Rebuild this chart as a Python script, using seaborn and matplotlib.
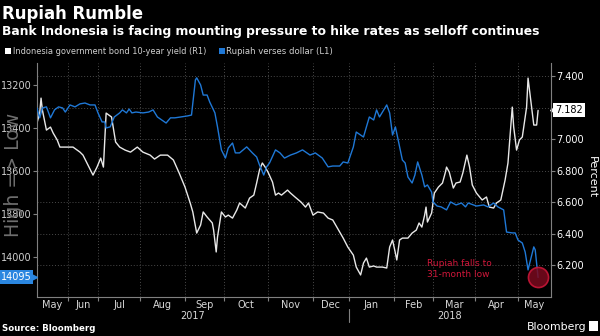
import numpy as np
import pandas as pd
import matplotlib
matplotlib.use("Agg")
import matplotlib.pyplot as plt
import matplotlib.dates as mdates
from matplotlib.ticker import FixedLocator, NullFormatter, FixedFormatter
from matplotlib.patches import Rectangle
from matplotlib.lines import Line2D
import seaborn as sns

# ---------------- data ----------------
rupiah_dates = [
    "2017-05-09", "2017-05-11", "2017-05-13", "2017-05-16", "2017-05-19", "2017-05-22", "2017-05-25", "2017-05-28", "2017-05-30", "2017-06-03",
    "2017-06-08", "2017-06-13", "2017-06-18", "2017-06-23", "2017-06-28", "2017-07-01", "2017-07-04", "2017-07-06", "2017-07-07", "2017-07-10",
    "2017-07-13", "2017-07-17", "2017-07-19", "2017-07-22", "2017-07-24", "2017-07-26", "2017-07-29", "2017-08-03", "2017-08-07", "2017-08-10",
    "2017-08-13", "2017-08-16", "2017-08-19", "2017-08-22", "2017-08-25", "2017-08-29", "2017-09-03", "2017-09-06", "2017-09-09", "2017-09-10",
    "2017-09-13", "2017-09-15", "2017-09-18", "2017-09-20", "2017-09-24", "2017-09-26", "2017-09-29", "2017-10-02", "2017-10-04", "2017-10-07",
    "2017-10-09", "2017-10-12", "2017-10-17", "2017-10-21", "2017-10-24", "2017-10-26", "2017-10-29", "2017-10-31", "2017-11-02", "2017-11-06",
    "2017-11-09", "2017-11-12", "2017-11-16", "2017-11-20", "2017-11-24", "2017-11-29", "2017-12-03", "2017-12-09", "2017-12-14", "2017-12-18",
    "2017-12-24", "2017-12-27", "2017-12-31", "2018-01-04", "2018-01-06", "2018-01-09", "2018-01-11", "2018-01-13", "2018-01-15", "2018-01-18",
    "2018-01-20", "2018-01-22", "2018-01-27", "2018-01-29", "2018-01-31", "2018-02-02", "2018-02-04", "2018-02-07", "2018-02-09", "2018-02-11",
    "2018-02-14", "2018-02-16", "2018-02-18", "2018-02-21", "2018-02-23", "2018-02-25", "2018-02-28", "2018-03-01", "2018-03-04", "2018-03-07",
    "2018-03-11", "2018-03-14", "2018-03-18", "2018-03-22", "2018-03-25", "2018-03-27", "2018-04-02", "2018-04-07", "2018-04-10", "2018-04-14",
    "2018-04-17", "2018-04-21", "2018-04-23", "2018-04-27", "2018-04-29", "2018-05-01", "2018-05-04", "2018-05-06", "2018-05-08", "2018-05-12",
    "2018-05-13", "2018-05-15",
]
rupiah_values = [
    13307, 13353, 13307, 13302, 13353, 13316, 13302, 13307, 13326, 13293,
    13302, 13288, 13284, 13293, 13293, 13330, 13372, 13372, 13400, 13395,
    13349, 13330, 13316, 13330, 13312, 13330, 13326, 13330, 13326, 13316,
    13349, 13363, 13377, 13353, 13353, 13349, 13344, 13340, 13177, 13167,
    13200, 13247, 13247, 13279, 13330, 13395, 13502, 13540, 13493, 13470,
    13516, 13516, 13488, 13516, 13535, 13572, 13619, 13581, 13563, 13502,
    13516, 13540, 13526, 13516, 13502, 13526, 13516, 13540, 13581, 13577,
    13577, 13558, 13563, 13488, 13419, 13433, 13442, 13395, 13349, 13363,
    13316, 13349, 13293, 13330, 13433, 13395, 13456, 13549, 13563, 13628,
    13656, 13619, 13558, 13619, 13674, 13665, 13698, 13744, 13763, 13767,
    13781, 13744, 13758, 13749, 13767, 13749, 13763, 13758, 13767, 13749,
    13767, 13781, 13884, 13888, 13888, 13921, 13935, 13977, 14060, 13953,
    13967, 14095,
]

yield_dates = [
    "2017-05-09", "2017-05-11", "2017-05-12", "2017-05-13", "2017-05-16", "2017-05-19", "2017-05-21", "2017-05-24", "2017-05-26", "2017-05-31",
    "2017-06-06", "2017-06-13", "2017-06-16", "2017-06-21", "2017-06-26", "2017-06-30", "2017-07-03", "2017-07-05", "2017-07-07", "2017-07-11",
    "2017-07-14", "2017-07-17", "2017-07-21", "2017-07-25", "2017-07-30", "2017-08-03", "2017-08-08", "2017-08-11", "2017-08-15", "2017-08-20",
    "2017-08-24", "2017-08-28", "2017-09-01", "2017-09-05", "2017-09-07", "2017-09-10", "2017-09-13", "2017-09-15", "2017-09-18", "2017-09-22",
    "2017-09-23", "2017-09-25", "2017-09-26", "2017-09-29", "2017-10-02", "2017-10-04", "2017-10-07", "2017-10-10", "2017-10-12", "2017-10-16",
    "2017-10-19", "2017-10-22", "2017-10-24", "2017-10-26", "2017-10-28", "2017-10-30", "2017-11-01", "2017-11-04", "2017-11-06", "2017-11-08",
    "2017-11-10", "2017-11-14", "2017-11-16", "2017-11-19", "2017-11-23", "2017-11-26", "2017-11-28", "2017-12-01", "2017-12-05", "2017-12-10",
    "2017-12-14", "2017-12-18", "2017-12-22", "2017-12-27", "2017-12-31", "2018-01-04", "2018-01-06", "2018-01-09", "2018-01-11", "2018-01-13",
    "2018-01-15", "2018-01-18", "2018-01-20", "2018-01-24", "2018-01-27", "2018-01-29", "2018-01-31", "2018-02-02", "2018-02-03", "2018-02-05",
    "2018-02-07", "2018-02-11", "2018-02-14", "2018-02-17", "2018-02-19", "2018-02-21", "2018-02-23", "2018-02-24", "2018-02-25", "2018-02-28",
    "2018-03-02", "2018-03-05", "2018-03-08", "2018-03-10", "2018-03-11", "2018-03-13", "2018-03-16", "2018-03-18", "2018-03-21", "2018-03-23",
    "2018-03-26", "2018-03-28", "2018-03-30", "2018-04-02", "2018-04-06", "2018-04-09", "2018-04-11", "2018-04-14", "2018-04-16", "2018-04-19",
    "2018-04-22", "2018-04-24", "2018-04-27", "2018-04-28", "2018-04-30", "2018-05-02", "2018-05-04", "2018-05-07", "2018-05-08", "2018-05-11",
    "2018-05-12", "2018-05-14", "2018-05-15",
]
yield_values = [
    7.102, 7.165, 7.260, 7.184, 7.057, 7.076, 7.038, 6.994, 6.949, 6.949,
    6.949, 6.917, 6.898, 6.835, 6.771, 6.822, 6.879, 6.822, 7.165, 7.140,
    6.981, 6.949, 6.930, 6.917, 6.949, 6.917, 6.898, 6.873, 6.898, 6.898,
    6.867, 6.784, 6.695, 6.594, 6.537, 6.403, 6.454, 6.537, 6.505, 6.467,
    6.422, 6.283, 6.378, 6.537, 6.505, 6.517, 6.498, 6.549, 6.594, 6.562,
    6.625, 6.644, 6.721, 6.803, 6.848, 6.822, 6.790, 6.727, 6.644, 6.657,
    6.644, 6.676, 6.657, 6.632, 6.600, 6.568, 6.594, 6.517, 6.537, 6.530,
    6.498, 6.486, 6.435, 6.371, 6.314, 6.263, 6.187, 6.137, 6.213, 6.244,
    6.187, 6.194, 6.187, 6.187, 6.181, 6.314, 6.359, 6.276, 6.232, 6.359,
    6.371, 6.371, 6.403, 6.422, 6.467, 6.441, 6.517, 6.568, 6.473, 6.530,
    6.657, 6.695, 6.721, 6.784, 6.822, 6.790, 6.689, 6.721, 6.727, 6.784,
    6.898, 6.822, 6.708, 6.657, 6.613, 6.632, 6.568, 6.562, 6.594, 6.613,
    6.740, 6.848, 7.203, 7.076, 6.930, 6.994, 7.013, 7.203, 7.387, 7.165,
    7.089, 7.089, 7.182,
]

month_starts = ["2017-06-01", "2017-07-01", "2017-08-01", "2017-09-01", "2017-10-01", "2017-11-01",
                "2017-12-01", "2018-01-01", "2018-02-01", "2018-03-01", "2018-04-01", "2018-05-01"]
month_labels = ["May", "Jun", "Jul", "Aug", "Sep", "Oct", "Nov", "Dec", "Jan", "Feb", "Mar", "Apr", "May"]
axis_start, axis_end = "2017-05-09", "2018-05-24"
rupiah_ticks = [13200, 13400, 13600, 13800, 14000]
yield_ticks = [6.2, 6.4, 6.6, 6.8, 7.0, 7.2, 7.4]
yield_tick_labels = ["6.200", "6.400", "6.600", "6.800", "7.000", "", "7.400"]

title = "Rupiah Rumble"
subtitle = "Bank Indonesia is facing mounting pressure to hike rates as selloff continues"
legend_yield = "Indonesia government bond 10-year yield (R1)"
legend_rupiah = "Rupiah verses dollar (L1)"
note = "Rupiah falls to\n31-month low"

# ---------------- style ----------------
sns.set_theme(context="paper", style="dark")
plt.rcParams["font.family"] = ["DejaVu Sans"]
BG = "black"
BLUE = "#1f78d6"
WHITE = "#e8e8e8"
GRID = "#4a4a4a"
SPINE = "#808080"
RED = "#d0173a"

df_r = pd.DataFrame({"date": pd.to_datetime(rupiah_dates), "value": rupiah_values})
df_y = pd.DataFrame({"date": pd.to_datetime(yield_dates), "value": yield_values})

W, H = 600, 336
fig = plt.figure(figsize=(W / 100, H / 100), dpi=100, facecolor=BG)
ax = fig.add_axes([37 / W, 39 / H, 514 / W, 234 / H])   # yield (right)
ax.set_facecolor(BG)
ax2 = ax.twinx()                                          # rupiah (left)
ax2.patch.set_visible(False)

sns.lineplot(data=df_y, x="date", y="value", ax=ax, color=WHITE, linewidth=1.0, estimator=None)
sns.lineplot(data=df_r, x="date", y="value", ax=ax2, color=BLUE, linewidth=1.0, estimator=None)

# trading-day style x scale (piecewise by month)
anchor_dates = pd.to_datetime([axis_start] + month_starts + [axis_end])
anchor_num = mdates.date2num(anchor_dates)
anchor_pos = np.array([37, 68, 98, 140, 185, 224, 268, 313, 349, 394, 433, 475, 518, 551], float)


def fwd(x):
    return np.interp(x, anchor_num, anchor_pos)


def inv(p):
    return np.interp(p, anchor_pos, anchor_num)


ax.set_xscale("function", functions=(fwd, inv))
ax.set_xlim(anchor_num[0], anchor_num[-1])

ms_num = mdates.date2num(pd.to_datetime(month_starts))
mids = (anchor_num[:-1] + anchor_num[1:]) / 2
ax.xaxis.set_major_locator(FixedLocator(ms_num))
ax.xaxis.set_major_formatter(NullFormatter())
ax.xaxis.set_minor_locator(FixedLocator(mids))
ax.xaxis.set_minor_formatter(FixedFormatter(month_labels))
ax.tick_params(axis="x", which="major", direction="out", length=3, width=0.8, color=SPINE, bottom=True)
ax.tick_params(axis="x", which="minor", length=0, pad=2, labelsize=7, labelcolor="#d8d8d8", bottom=True)

# y axes
ax.set_ylim(5.997, 7.483)
ax.yaxis.set_major_locator(FixedLocator(yield_ticks))
ax.yaxis.set_major_formatter(FixedFormatter(yield_tick_labels))
ax.yaxis.tick_right()
ax.tick_params(axis="y", direction="out", length=3, width=0.8, color=SPINE, pad=1, labelsize=7,
               labelcolor="white", right=True, left=False)

ax2.set_ylim(14186, 13098)
ax2.yaxis.set_major_locator(FixedLocator(rupiah_ticks))
ax2.yaxis.tick_left()
ax2.tick_params(axis="y", direction="out", length=3, width=0.8, color=SPINE, pad=1, labelsize=7,
                labelcolor="#d0d0d0", left=True, right=False)

for a in (ax, ax2):
    a.set_xlabel("")
    a.set_ylabel("")

ax.grid(True, axis="both", which="major", color=GRID, linestyle=(0, (1, 2)), linewidth=0.7)
ax2.grid(False)
for s in ("left", "right", "bottom"):
    ax.spines[s].set_visible(True)
    ax.spines[s].set_color(SPINE)
    ax.spines[s].set_linewidth(0.8)
ax.spines["top"].set_visible(False)
for s in ax2.spines.values():
    s.set_visible(False)

# last-value tags
ax.annotate(f"{yield_values[-1]:.3f}", xy=(1, yield_values[-1]), xycoords=ax.get_yaxis_transform(),
            xytext=(3, 0), textcoords="offset points", ha="left", va="center",
            fontsize=7, color="black",
            bbox=dict(boxstyle="square,pad=0.2", fc="white", ec="none"), annotation_clip=False)
ax.plot([1.004], [yield_values[-1]], marker="<", color="white", markersize=4,
        transform=ax.get_yaxis_transform(), clip_on=False)
ax2.annotate(f"{rupiah_values[-1]}", xy=(0, rupiah_values[-1]), xycoords=ax2.get_yaxis_transform(),
             xytext=(-4, 0), textcoords="offset points", ha="right", va="center",
             fontsize=7, color="white",
             bbox=dict(boxstyle="square,pad=0.2", fc="#2a86e0", ec="none"), annotation_clip=False)
ax2.plot([-0.005], [rupiah_values[-1]], marker=">", color="#2a86e0", markersize=4,
         transform=ax2.get_yaxis_transform(), clip_on=False)

# red circle at the low
ax2.scatter([df_r["date"].iloc[-1]], [rupiah_values[-1]], s=210, facecolor="#7a0a1e",
            edgecolor=RED, linewidth=1.2, alpha=0.85, zorder=5)
fig.text(427 / W, 1 - 269 / H, note, color=RED, fontsize=6.5, ha="left", va="center", linespacing=1.25)

# ---------------- texts ----------------
renderer = fig.canvas.get_renderer()


def fit(t, target, vertical=False):
    bb = t.get_window_extent(renderer)
    size = bb.height if vertical else bb.width
    t.set_fontsize(t.get_fontsize() * target / size)


t = fig.text(2 / W, 1 - 19 / H, title, color="white", fontsize=11, fontweight="bold", va="baseline")
fit(t, 141)
t = fig.text(2 / W, 1 - 34.5 / H, subtitle, color="white", fontsize=9, fontweight="bold", va="baseline")
fit(t, 539)

fig.add_artist(Rectangle((5 / W, 1 - 54 / H), 6 / W, 6 / H, transform=fig.transFigure, fc="white", ec="none"))
t = fig.text(13 / W, 1 - 53.5 / H, legend_yield, color="#d0d0d0", fontsize=7, va="baseline")
fit(t, 195)
fig.add_artist(Rectangle((219 / W, 1 - 54 / H), 6 / W, 6 / H, transform=fig.transFigure, fc=BLUE, ec="none"))
t = fig.text(226 / W, 1 - 53.5 / H, legend_rupiah, color="#d0d0d0", fontsize=7, va="baseline")
fit(t, 107)

t = fig.text(14 / W, 1 - 175 / H, "High => Low", color="#6e6e6e", fontsize=12, rotation=90,
             ha="center", va="center")
fit(t, 124, vertical=True)
fig.text(592 / W, 1 - 177 / H, "Percent", color="white", fontsize=8, rotation=270, ha="center", va="center")

fig.text(193 / W, 1 - 316 / H, "2017", color="#d8d8d8", fontsize=7, ha="center", va="center")
fig.text(450 / W, 1 - 316 / H, "2018", color="#d8d8d8", fontsize=7, ha="center", va="center")
fig.add_artist(Line2D([349 / W, 349 / W], [1 - 309 / H, 1 - 322 / H], color=SPINE, linewidth=0.8))

t = fig.text(2 / W, 1 - 331 / H, "Source: Bloomberg", color="white", fontsize=6.5, fontweight="bold", va="baseline")
fit(t, 93)
t = fig.text(586 / W, 1 - 330 / H, "Bloomberg", color="white", fontsize=8.5, ha="right", va="baseline")
fit(t, 59)
fig.add_artist(Rectangle((589 / W, 1 - 331 / H), 9 / W, 10 / H, transform=fig.transFigure, fc="white", ec="none"))

fig.savefig("out.png", dpi=100, facecolor=BG)
